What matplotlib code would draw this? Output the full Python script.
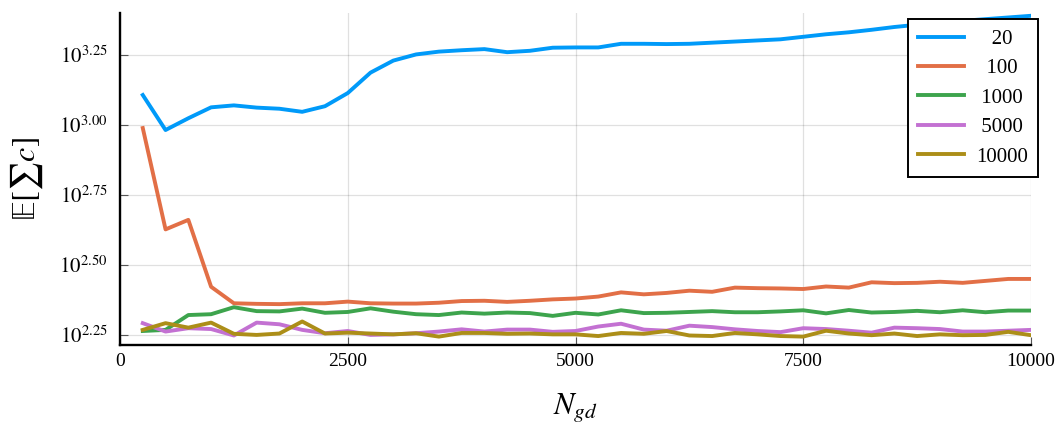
import matplotlib
matplotlib.use('Agg')
import matplotlib.pyplot as plt
from matplotlib.ticker import FixedLocator, FixedFormatter, NullLocator

plt.rcParams['font.family'] = ['Liberation Serif', 'DejaVu Serif']
plt.rcParams['mathtext.fontset'] = 'stix'

# gradient-descent steps
n_gd = [250, 500, 750, 1000, 1250, 1500, 1750, 2000, 2250, 2500,
        2750, 3000, 3250, 3500, 3750, 4000, 4250, 4500, 4750, 5000,
        5250, 5500, 5750, 6000, 6250, 6500, 6750, 7000, 7250, 7500,
        7750, 8000, 8250, 8500, 8750, 9000, 9250, 9500, 9750, 10000]

# log10 of E[sum c] for each batch size
log_c20 = [3.107, 2.982, 3.024, 3.063, 3.070, 3.062, 3.058, 3.047, 3.067, 3.114,
           3.187, 3.230, 3.252, 3.262, 3.267, 3.271, 3.260, 3.265, 3.276, 3.277,
           3.277, 3.290, 3.290, 3.289, 3.290, 3.294, 3.298, 3.302, 3.306, 3.315,
           3.324, 3.331, 3.340, 3.350, 3.358, 3.365, 3.372, 3.378, 3.384, 3.390]
log_c100 = [2.989, 2.627, 2.661, 2.422, 2.363, 2.361, 2.360, 2.363, 2.363, 2.369,
            2.363, 2.362, 2.362, 2.365, 2.371, 2.372, 2.368, 2.372, 2.377, 2.380,
            2.387, 2.402, 2.395, 2.400, 2.408, 2.404, 2.419, 2.417, 2.416, 2.414,
            2.423, 2.419, 2.438, 2.435, 2.436, 2.440, 2.436, 2.443, 2.450, 2.450]
log_c1000 = [2.264, 2.268, 2.321, 2.324, 2.349, 2.335, 2.334, 2.344, 2.329, 2.332,
             2.345, 2.333, 2.324, 2.321, 2.330, 2.326, 2.330, 2.328, 2.318, 2.329,
             2.323, 2.338, 2.328, 2.329, 2.332, 2.335, 2.331, 2.331, 2.334, 2.338,
             2.327, 2.339, 2.330, 2.332, 2.336, 2.331, 2.338, 2.331, 2.337, 2.337]
log_c5000 = [2.292, 2.262, 2.274, 2.271, 2.248, 2.294, 2.288, 2.268, 2.256, 2.264,
             2.250, 2.252, 2.256, 2.262, 2.270, 2.262, 2.269, 2.269, 2.261, 2.264,
             2.280, 2.290, 2.269, 2.265, 2.283, 2.278, 2.270, 2.264, 2.260, 2.274,
             2.271, 2.265, 2.258, 2.276, 2.274, 2.271, 2.262, 2.262, 2.265, 2.268]
log_c10000 = [2.268, 2.292, 2.276, 2.294, 2.254, 2.250, 2.255, 2.298, 2.255, 2.258,
              2.255, 2.252, 2.256, 2.244, 2.257, 2.257, 2.254, 2.255, 2.252, 2.252,
              2.246, 2.257, 2.254, 2.264, 2.248, 2.246, 2.257, 2.252, 2.246, 2.244,
              2.265, 2.255, 2.249, 2.255, 2.246, 2.252, 2.249, 2.250, 2.261, 2.249]

labels = ['20', '100', '1000', '5000', '10000']
series = [log_c20, log_c100, log_c1000, log_c5000, log_c10000]
colors = ['#009af9', '#e26f46', '#3da44d', '#c371d2', '#ac8e18']

ytick_exp = [2.25, 2.50, 2.75, 3.00, 3.25]
xticks = [0, 2500, 5000, 7500, 10000]

fig = plt.figure(figsize=(10.59, 4.25), dpi=100)
ax = fig.add_axes([120 / 1059, 1 - 345 / 425, 911 / 1059, 332 / 425])

for lab, vals, col in zip(labels, series, colors):
    # pad so the legend labels sit centred in their column
    pad = ' ' * (5 - len(lab))
    ax.plot(n_gd, [10 ** v for v in vals], color=col, lw=2.8, label=pad + lab,
            solid_joinstyle='round')

ax.set_yscale('log')
ax.set_xlim(0, 10000)
ax.set_ylim(10 ** 2.214, 10 ** 3.40)
ax.yaxis.set_major_locator(FixedLocator([10 ** e for e in ytick_exp]))
ax.yaxis.set_major_formatter(FixedFormatter([r'$10^{%.2f}$' % e for e in ytick_exp]))
ax.yaxis.set_minor_locator(NullLocator())
ax.set_xticks(xticks)
ax.set_xticklabels([str(t) for t in xticks])

ax.grid(True, color='black', alpha=0.12, lw=0.9)
ax.set_axisbelow(True)
for s in ['top', 'right']:
    ax.spines[s].set_visible(False)
for s in ['left', 'bottom']:
    ax.spines[s].set_linewidth(1.7)
    ax.spines[s].set_color('black')
ax.tick_params(direction='in', length=6, width=0.8, color='#555555',
               labelsize=14, labelcolor='black')
ax.tick_params(axis='y', pad=9, labelsize=15)
ax.tick_params(axis='x', pad=6)

ax.set_ylabel(r'$\mathrm{\mathbb{E}}[\sum c]$', fontsize=23, labelpad=10)
ax.set_xlabel(r'$N_{gd}$', fontsize=22, labelpad=15)

leg = ax.legend(loc='upper right', bbox_to_anchor=(1038 / 1059, 1 - 19 / 425),
                bbox_transform=fig.transFigure, borderaxespad=0,
                fontsize=15, frameon=True, fancybox=False, framealpha=1,
                edgecolor='black', handlelength=2.2, handletextpad=0.55,
                labelspacing=0.47, borderpad=0.5)
leg.get_frame().set_linewidth(1.4)
for line in leg.get_lines():
    line.set_linewidth(2.8)

fig.savefig('out.png', dpi=100)
